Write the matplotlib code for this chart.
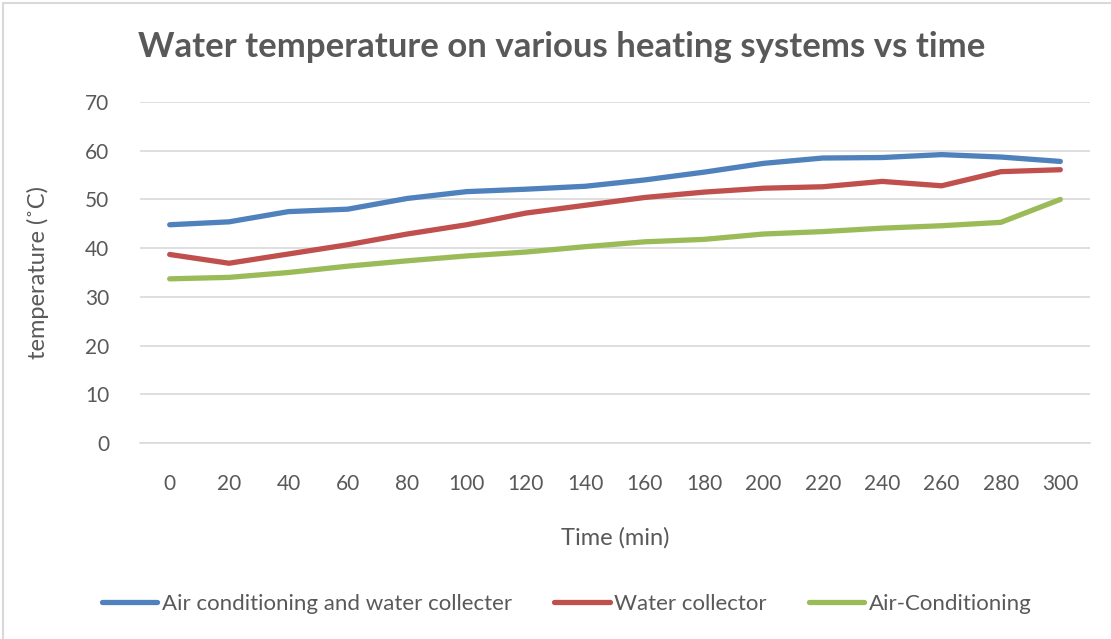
import matplotlib.pyplot as plt
from matplotlib.patches import Rectangle

# Datos
time_min = [0, 20, 40, 60, 80, 100, 120, 140, 160, 180, 200, 220, 240, 260, 280, 300]
ac_and_collector = [44.8, 45.4, 47.5, 48.0, 50.2, 51.6, 52.1, 52.7, 54.0, 55.6, 57.4, 58.5, 58.6, 59.2, 58.7, 57.8]
water_collector = [38.7, 36.9, 38.8, 40.7, 42.9, 44.8, 47.2, 48.8, 50.4, 51.5, 52.3, 52.6, 53.7, 52.8, 55.7, 56.1]
air_conditioning = [33.7, 34.0, 35.0, 36.3, 37.4, 38.4, 39.2, 40.3, 41.3, 41.8, 42.9, 43.4, 44.1, 44.6, 45.3, 50.0]

TXT = '#595959'
plt.rcParams['font.family'] = ['Lato', 'DejaVu Sans']

fig = plt.figure(figsize=(11.11, 6.39), dpi=100)
ax = fig.add_axes([140 / 1111, 1 - 443 / 639, 950 / 1111, 341 / 639])

pos = list(range(len(time_min)))
ax.plot(pos, ac_and_collector, color='#4F81BD', linewidth=3.8, solid_capstyle='round',
        label='Air conditioning and water collecter')
ax.plot(pos, water_collector, color='#C0504D', linewidth=3.8, solid_capstyle='round',
        label='Water collector')
ax.plot(pos, air_conditioning, color='#9BBB59', linewidth=3.8, solid_capstyle='round',
        label='Air-Conditioning')

ax.set_xlim(-0.5, len(time_min) - 0.5)
ax.set_ylim(0, 70)
ax.set_yticks(range(0, 71, 10))
ax.set_xticks(pos)
ax.set_xticklabels([str(t) for t in time_min])
ax.grid(axis='y', color='#D9D9D9', linewidth=1.2)
ax.set_axisbelow(True)
for s in ['top', 'right', 'left']:
    ax.spines[s].set_visible(False)
ax.spines['bottom'].set_color('#D9D9D9')
ax.spines['bottom'].set_linewidth(1.2)
ax.tick_params(length=0, labelsize=15, colors=TXT)
ax.tick_params(axis='x', pad=22)
ax.tick_params(axis='y', pad=22)

ax.set_xlabel('Time (min)', fontsize=17, color=TXT, labelpad=24)
ax.set_ylabel('temperature (˚C)', fontsize=17, color=TXT, labelpad=26)

fig.text(0.506, 1 - 47 / 639, 'Water temperature on various heating systems vs time',
         ha='center', va='center', fontsize=25, fontweight='bold', color=TXT)

fig.legend(loc='center', bbox_to_anchor=(0.51, 1 - 604 / 639), ncol=3, frameon=False,
           fontsize=16, labelcolor=TXT, handlelength=2.5, columnspacing=1.9, handletextpad=0.2)

fig.patches.append(Rectangle((3 / 1111, -0.01), 1.02, 1 - 3 / 639 + 0.01, transform=fig.transFigure,
                             fill=False, edgecolor='#D9D9D9', linewidth=1.5))

plt.savefig('out.png', dpi=100)
